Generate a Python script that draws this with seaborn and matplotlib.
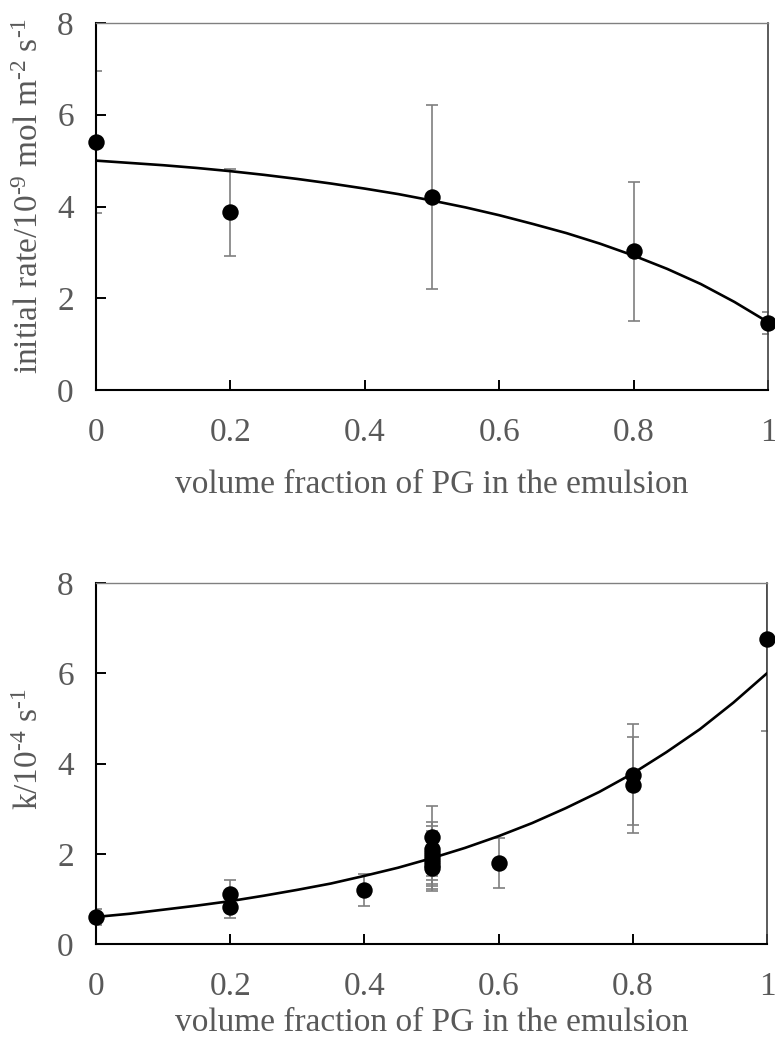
import numpy as np
import pandas as pd
import matplotlib
matplotlib.use("Agg")
import matplotlib.pyplot as plt
import seaborn as sns

# ---- data: top panel (initial rate) ----
rate_x = [0.0, 0.2, 0.5, 0.8, 1.0]
rate_y = [5.40, 3.87, 4.21, 3.02, 1.46]
rate_err = [1.55, 0.95, 2.00, 1.52, 0.23]
# fitted curve
rate_fit_x = [0.0, 0.05, 0.1, 0.15, 0.2, 0.25, 0.3, 0.35, 0.4, 0.45, 0.5,
              0.55, 0.6, 0.65, 0.7, 0.75, 0.8, 0.85, 0.9, 0.95, 1.0]
rate_fit_y = [5.00, 4.95, 4.90, 4.84, 4.77, 4.69, 4.60, 4.50, 4.39, 4.27, 4.13,
              3.98, 3.81, 3.62, 3.42, 3.19, 2.93, 2.64, 2.31, 1.92, 1.48]

# ---- data: bottom panel (k) ----
k_x = [0.0, 0.2, 0.2, 0.4, 0.5, 0.5, 0.5, 0.5, 0.5, 0.5, 0.5, 0.6, 0.8, 0.8, 1.0]
k_y = [0.60, 1.11, 0.83, 1.20, 2.37, 2.10, 2.02, 1.92, 1.83, 1.74, 1.68, 1.80, 3.75, 3.52, 6.76]
k_err = [0.18, 0.31, 0.25, 0.36, 0.69, 0.60, 0.60, 0.58, 0.55, 0.53, 0.50, 0.55, 1.12, 1.07, 2.04]
k_fit_x = [0.0, 0.05, 0.1, 0.15, 0.2, 0.25, 0.3, 0.35, 0.4, 0.45, 0.5,
           0.55, 0.6, 0.65, 0.7, 0.75, 0.8, 0.85, 0.9, 0.95, 1.0]
k_fit_y = [0.60, 0.67, 0.76, 0.85, 0.95, 1.07, 1.20, 1.34, 1.51, 1.69, 1.90,
           2.13, 2.39, 2.68, 3.01, 3.37, 3.78, 4.25, 4.76, 5.35, 6.00]

y_ticks = [0, 2, 4, 6, 8]
x_ticks = [0, 0.2, 0.4, 0.6, 0.8, 1.0]
x_ticklabels = ["0", "0.2", "0.4", "0.6", "0.8", "1"]

sns.set_style("ticks")
plt.rcParams['font.family'] = ['Liberation Serif', 'DejaVu Serif']
plt.rcParams['mathtext.fontset'] = 'custom'
plt.rcParams['mathtext.rm'] = 'Liberation Serif'
plt.rcParams['mathtext.it'] = 'Liberation Serif:italic'

GRAY_TXT = "#595959"
ERR_COL = "#7f7f7f"
FS = 24

fig = plt.figure(figsize=(7.75, 10.42), dpi=100)
ax1 = fig.add_axes([96/775, 1-390/1042, (768-96)/775, (390-23)/1042])
ax2 = fig.add_axes([96/775, 1-944/1042, (767-96)/775, (944-583)/1042])


def draw(ax, x, y, err, fx, fy, ylabel, xlabel_pad, ylabel_y):
    ax.errorbar(x, y, yerr=err, fmt="none", ecolor=ERR_COL, elinewidth=1.2,
                capsize=4.3, capthick=1.2, zorder=2)
    fit = pd.DataFrame({"x": fx, "y": fy})
    sns.lineplot(data=fit, x="x", y="y", ax=ax, color="black", linewidth=1.9,
                 zorder=3)
    pts = pd.DataFrame({"x": x, "y": y})
    sns.scatterplot(data=pts, x="x", y="y", ax=ax, color="black", s=140,
                    edgecolor="black", linewidth=0, zorder=4, clip_on=False)
    ax.set_xlim(0, 1)
    ax.set_ylim(0, 8)
    ax.set_xticks(x_ticks)
    ax.set_xticklabels(x_ticklabels)
    ax.set_yticks(y_ticks)
    ax.tick_params(direction="in", length=7, width=1.4, colors="black",
                   labelcolor=GRAY_TXT, labelsize=FS)
    ax.tick_params(axis="x", pad=20)
    ax.tick_params(axis="y", pad=16)
    for s in ["left", "bottom"]:
        ax.spines[s].set_color("black")
        ax.spines[s].set_linewidth(1.5)
    ax.spines["top"].set_color("#808080")
    ax.spines["top"].set_linewidth(1.0)
    ax.spines["right"].set_color("#404040")
    ax.spines["right"].set_linewidth(1.2)
    ax.set_xlabel("volume fraction of PG in the emulsion", fontsize=FS,
                  color=GRAY_TXT, labelpad=xlabel_pad)
    ax.set_ylabel(ylabel, fontsize=FS, color=GRAY_TXT)
    ax.yaxis.set_label_coords(-0.076, ylabel_y)


draw(ax1, rate_x, rate_y, rate_err, rate_fit_x, rate_fit_y,
     "initial rate/10$^{\u20109}$ mol m$^{\u20102}$ s$^{\u20101}$", 15, 0.53)
draw(ax2, k_x, k_y, k_err, k_fit_x, k_fit_y,
     "k/10$^{\u20104}$ s$^{\u20101}$", 4, 0.54)

fig.savefig("out.png", dpi=100)
